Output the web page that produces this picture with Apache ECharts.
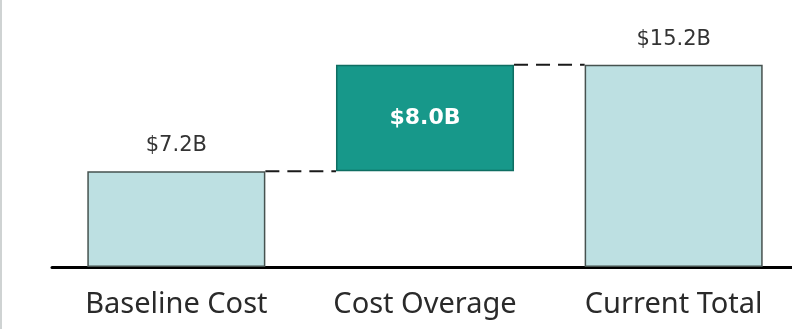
<!DOCTYPE html>
<html>
<head>
<meta charset="utf-8">
<script src="https://cdn.jsdelivr.net/npm/echarts@6/dist/echarts.min.js"></script>
<style>
  html, body { margin: 0; padding: 0; background: #ffffff; }
  #chart { width: 792px; height: 329px; }
</style>
</head>
<body>
<div id="chart"></div>
<script>
// Waterfall: baseline cost, overage step, current total (billions of dollars)
const categories = ['Baseline Cost', 'Cost Overage', 'Current Total'];
const amounts = [7.2, 8.0, 15.2];
const isTotal = [true, false, true];

// Invisible offsets and running levels derived from the amounts
const offsets = [];
const levels = [];
let running = 0;
amounts.forEach(function (v, i) {
  if (isTotal[i]) {
    offsets.push(0);
    running = v;
  } else {
    offsets.push(running);
    running = running + v;
  }
  levels.push(running);
});

// Connector segments between neighbouring bars: [fromIndex, toIndex, level]
const connectors = [];
for (let i = 0; i < categories.length - 1; i++) {
  connectors.push([i, i + 1, levels[i]]);
}

const BAR_SHARE = 0.716;
const fmt = function (v) { return '$' + v.toFixed(1) + 'B'; };

const chart = echarts.init(document.getElementById('chart'));

chart.setOption({
  backgroundColor: '#ffffff',
  animation: false,
  // the plot band runs slightly past the right edge so the axis line meets it
  grid: { left: 52, width: 746, top: 54, bottom: 62, containLabel: false, outerBoundsMode: 'none' },
  xAxis: {
    type: 'category',
    data: categories,
    axisLine: { show: true, lineStyle: { color: '#000000', width: 3 } },
    axisTick: { show: false },
    axisLabel: {
      color: '#2a2a2a',
      fontFamily: 'Noto Sans',
      fontSize: 29,
      margin: 23
    }
  },
  yAxis: {
    type: 'value',
    min: 0,
    max: 16,
    show: false,
    splitLine: { show: false }
  },
  graphic: [
    {
      type: 'line',
      shape: { x1: 1, y1: 0, x2: 1, y2: 329 },
      style: { stroke: '#cfd3d3', lineWidth: 2 }
    }
  ],
  series: [
    {
      type: 'custom',
      name: 'connectors',
      z: 1,
      data: connectors,
      renderItem: function (params, api) {
        const a = api.coord([api.value(0), api.value(2)]);
        const b = api.coord([api.value(1), api.value(2)]);
        const half = api.size([1, 0])[0] * BAR_SHARE / 2;
        return {
          type: 'line',
          shape: { x1: a[0] + half, y1: a[1], x2: b[0] - half, y2: b[1] },
          style: { stroke: '#1a1a1a', lineWidth: 2, lineDash: [14, 8] }
        };
      }
    },
    {
      type: 'bar',
      name: 'offset',
      stack: 'wf',
      barWidth: (BAR_SHARE * 100) + '%',
      itemStyle: { color: 'transparent', borderWidth: 0 },
      emphasis: { disabled: true },
      data: offsets
    },
    {
      type: 'bar',
      name: 'amount',
      stack: 'wf',
      z: 2,
      barWidth: (BAR_SHARE * 100) + '%',
      data: amounts.map(function (v, i) {
        if (isTotal[i]) {
          return {
            value: v,
            itemStyle: { color: '#bde0e2', borderColor: '#46524f', borderWidth: 1.5 },
            label: {
              show: true,
              position: 'top',
              distance: 15,
              color: '#333333',
              fontFamily: 'DejaVu Sans',
              fontSize: 21,
              formatter: fmt(v)
            }
          };
        }
        return {
          value: v,
          itemStyle: { color: '#17988a', borderColor: '#0e6e62', borderWidth: 1.5 },
          label: {
            show: true,
            position: 'inside',
            color: '#ffffff',
            fontFamily: 'DejaVu Sans',
            fontWeight: 'bold',
            fontSize: 22,
            formatter: fmt(v)
          }
        };
      })
    }
  ]
});
</script>
</body>
</html>
